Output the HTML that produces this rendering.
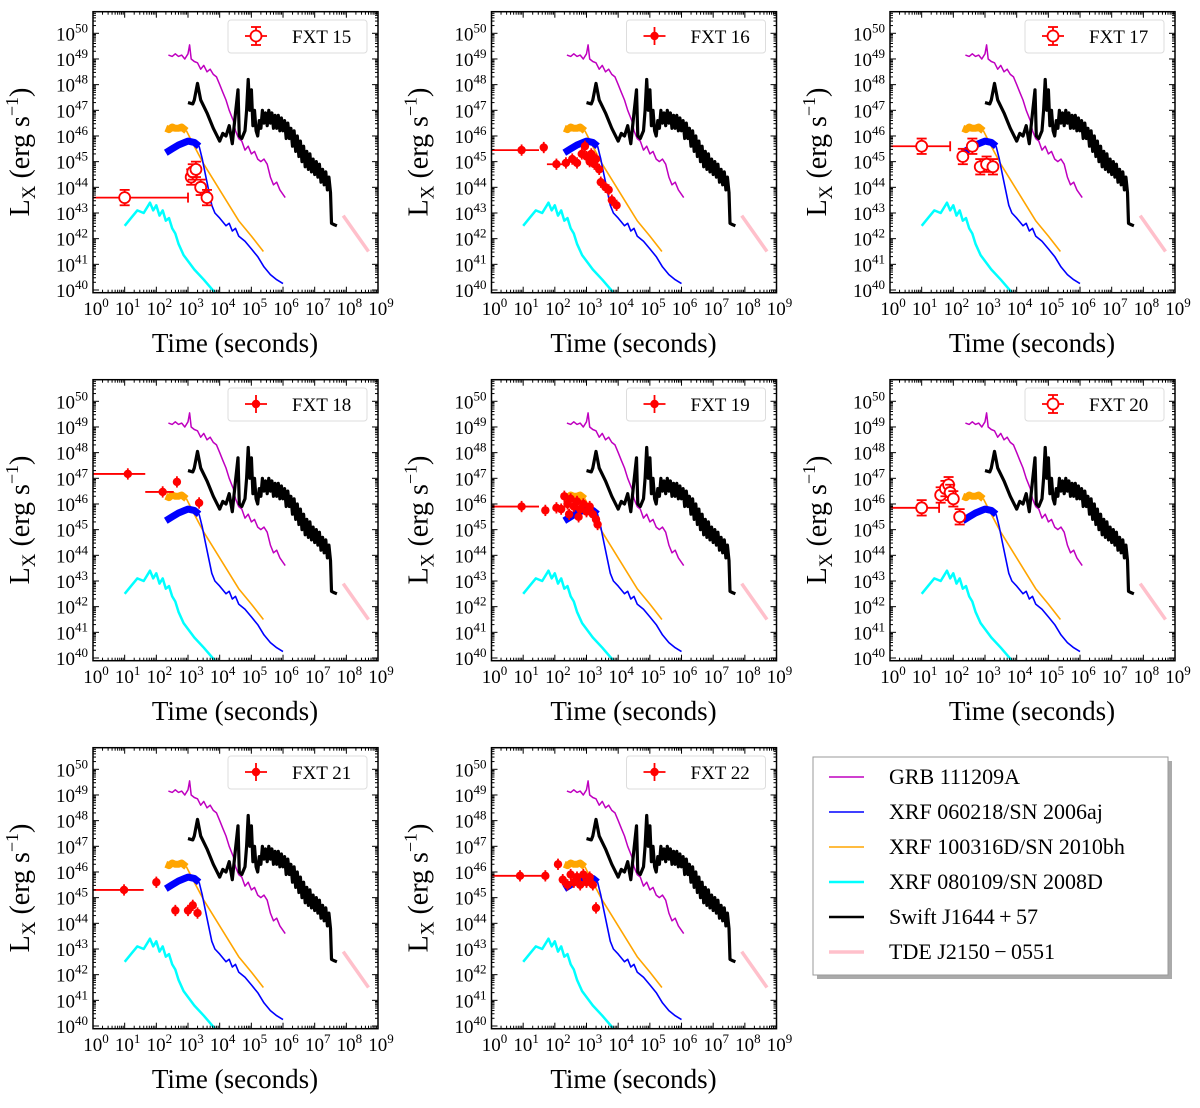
<!DOCTYPE html>
<html><head><meta charset="utf-8"><style>
body{margin:0;background:#fff}
svg{display:block;font-family:"Liberation Serif",serif}
</style></head><body>
<svg id="fig" width="1200" height="1108" viewBox="0 0 1200 1108" xmlns="http://www.w3.org/2000/svg"></svg>
<script>
const grbCurve=[[2.38,49.15],[2.5,49.1],[2.6,49.2],[2.7,49.1],[2.8,49.15],[2.9,49.0],[3.0,49.2],[3.05,49.55],[3.1,49.0],[3.2,48.9],[3.3,48.85],[3.4,48.6],[3.5,48.75],[3.6,48.5],[3.7,48.6],[3.8,48.4],[3.9,48.3],[4.0,48.0],[4.1,47.7],[4.2,47.4],[4.3,47.0],[4.43,46.6],[4.5,46.2],[4.6,45.9],[4.7,45.8],[4.8,45.45],[4.9,45.6],[5.0,45.3],[5.1,45.4],[5.2,45.1],[5.3,45.0],[5.4,45.1],[5.5,44.9],[5.6,44.4],[5.7,44.1],[5.8,44.2],[5.9,43.9],[6.07,43.6]];
const swiftCurve=[[3.0,47.3],[3.15,47.25],[3.2,47.4],[3.3,48.05],[3.4,47.4],[3.6,46.9],[3.8,46.3],[4.0,45.8],[4.1,46.1],[4.2,46.0],[4.3,46.4],[4.4,45.7],[4.5,46.9],[4.58,47.8],[4.62,46.0],[4.7,45.9],[4.8,46.2],[4.85,47.0],[4.9,48.2],[4.95,47.0],[5.0,47.8],[5.05,46.4],[5.1,47.0],[5.15,46.2],[5.2,46.0],[5.25,46.6],[5.3,46.3],[5.35,47.0],[5.4,46.5],[5.45,46.9],[5.5,46.4],[5.55,47.0],[5.6,46.5],[5.65,46.9],[5.7,46.3],[5.75,46.8],[5.8,46.3],[5.85,46.8],[5.9,46.2],[5.95,46.7],[6.0,46.2],[6.05,46.6],[6.1,45.9],[6.15,46.5],[6.2,45.9],[6.25,46.3],[6.3,45.6],[6.35,46.2],[6.4,45.4],[6.45,46.0],[6.5,45.2],[6.55,45.8],[6.6,45.0],[6.65,45.6],[6.7,44.8],[6.75,45.4],[6.8,44.7],[6.85,45.3],[6.9,44.6],[6.95,45.1],[7.0,44.5],[7.05,45.0],[7.1,44.4],[7.15,44.9],[7.2,44.2],[7.25,44.7],[7.3,44.1],[7.35,44.6],[7.4,43.9],[7.45,44.4],[7.5,43.8],[7.53,42.6],[7.6,42.55],[7.7,42.5]];
const orangeEarly=[[2.3,46.3],[2.4,46.25],[2.5,46.35],[2.6,46.3],[2.7,46.3],[2.8,46.35],[2.9,46.25],[2.95,46.2]];
const orangeCurve=[[2.95,46.2],[3.2,45.6],[3.5,44.9],[3.8,44.3],[4.0,43.9],[4.3,43.3],[4.6,42.7],[5.0,42.1],[5.38,41.5]];
const blueEarly=[[2.3,45.35],[2.5,45.5],[2.7,45.65],[2.9,45.75],[3.0,45.8],[3.2,45.75],[3.35,45.6]];
const blueCurve=[[3.35,45.6],[3.45,45.1],[3.55,44.5],[3.65,43.9],[3.75,43.3],[3.85,43.0],[4.0,42.8],[4.2,42.5],[4.3,42.6],[4.4,42.3],[4.5,42.4],[4.6,42.1],[4.8,41.9],[5.0,41.6],[5.2,41.3],[5.4,40.9],[5.6,40.6],[5.8,40.4],[6.0,40.25]];
const cyanCurve=[[1.0,42.5],[1.2,42.8],[1.4,43.1],[1.6,43.0],[1.8,43.4],[1.9,43.1],[2.0,43.3],[2.1,42.9],[2.2,43.1],[2.3,42.7],[2.4,42.8],[2.5,42.4],[2.6,42.2],[2.7,41.8],[2.86,41.36],[3.2,40.8],[3.5,40.4],[3.85,39.9]];
const tdeCurve=[[7.9,42.9],[8.7,41.5]];
// FXT points: [logT, logL, xerrLeft, xerrRight]
const fxt15=[[1.0,43.6,1.0,2.0],[3.1,44.4,0,0],[3.15,44.6,0,0],[3.25,44.7,0,0],[3.4,44.0,0,0],[3.6,43.6,0,0]];
const fxt16=[[0.95,45.45,0.95,0.55],[1.65,45.55,0,0],[2.05,44.9,0.3,0.2],[2.35,44.95,0,0],[2.55,45.1,0,0],[2.7,44.95,0,0],[2.85,45.3,0,0],[2.95,45.6,0,0],[3.0,45.2,0,0],[3.1,45.0,0,0],[3.15,45.3,0,0],[3.25,44.9,0,0],[3.3,45.1,0,0],[3.4,44.7,0,0],[3.45,44.2,0,0],[3.6,44.0,0,0],[3.7,43.9,0,0],[3.8,43.5,0,0],[3.95,43.3,0,0]];
const fxt17=[[1.0,45.6,1.0,0.9],[2.3,45.2,0,0],[2.6,45.6,0,0],[2.85,44.8,0,0],[3.05,44.9,0,0],[3.25,44.8,0,0]];
const fxt18=[[1.1,47.17,1.1,0.55],[2.2,46.47,0.55,0.35],[2.65,46.86,0,0],[3.35,46.04,0,0]];
const fxt19=[[0.95,45.9,0.95,0.55],[1.7,45.75,0,0],[2.05,45.85,0,0],[2.2,45.8,0,0],[2.3,46.3,0,0],[2.4,46.0,0,0],[2.45,45.6,0,0],[2.5,46.2,0,0],[2.6,45.9,0,0],[2.7,46.1,0,0],[2.75,45.5,0,0],[2.8,45.8,0,0],[2.9,46.0,0,0],[3.0,45.7,0,0],[3.1,45.9,0,0],[3.2,45.6,0,0],[3.3,45.4,0,0],[3.35,45.2,0,0]];
const fxt20=[[1.0,45.85,1.0,0.55],[1.6,46.35,0,0],[1.75,46.6,0,0],[1.85,46.75,0,0],[1.9,46.45,0,0],[2.0,46.2,0,0],[2.2,45.5,0,0]];
const fxt21=[[0.98,45.3,0.98,0.62],[2.0,45.6,0,0],[2.6,44.5,0,0],[3.0,44.5,0,0],[3.15,44.7,0,0],[3.3,44.4,0,0]];
const fxt22=[[0.9,45.85,0.9,0.8],[1.7,45.85,0,0],[2.1,46.3,0,0],[2.25,45.7,0,0],[2.4,45.5,0,0],[2.5,45.9,0,0],[2.6,45.6,0,0],[2.7,45.8,0,0],[2.8,45.5,0,0],[2.9,45.9,0,0],[3.0,45.6,0,0],[3.1,45.8,0,0],[3.2,45.5,0,0],[3.3,44.6,0,0]];
const panelNames=["FXT 15","FXT 16","FXT 17","FXT 18","FXT 19","FXT 20","FXT 21","FXT 22"];
const panelData=[fxt15,fxt16,fxt17,fxt18,fxt19,fxt20,fxt21,fxt22];
const panelOpen=[true,false,true,false,false,true,false,false];
const xTicks=[0,1,2,3,4,5,6,7,8,9];
const yTicks=[40,41,42,43,44,45,46,47,48,49,50];
const legendNames=["GRB 111209A","XRF 060218/SN 2006aj","XRF 100316D/SN 2010bh","XRF 080109/SN 2008D","Swift J1644\u2009+\u200957","TDE J2150\u2009\u2212\u20090551"];

const NS="http://www.w3.org/2000/svg";
const svg=document.getElementById('fig');
function mk(tag,attrs,parent){const e=document.createElementNS(NS,tag);for(const k in attrs)e.setAttribute(k,attrs[k]);parent.appendChild(e);return e;}
const X0=93,X1=378,YT=11.7,YB=292.7;
function X(lt){return X0+lt*31.67;}
function Y(ll){return 290-(ll-40)*25.67;}
function pathD(a){return a.map((p,i)=>(i?'L':'M')+X(p[0]).toFixed(1)+','+Y(p[1]).toFixed(1)).join('');}

const defs=mk('defs',{},svg);
const cp=mk('clipPath',{id:'clip'},defs);
mk('rect',{x:X0,y:YT,width:X1-X0,height:YB-YT},cp);

const curves=[
 [grbCurve,'#bf00bf',1.5,'grb-curve'],
 [swiftCurve,'#000',3.2,'swift-curve'],
 [orangeEarly,'#ffa500',7,'xrf100316d-early'],
 [orangeCurve,'#ffa500',1.6,'xrf100316d-curve'],
 [blueEarly,'#0000ff',7,'xrf060218-early'],
 [blueCurve,'#0000ff',1.6,'xrf060218-curve'],
 [cyanCurve,'#00ffff',2.5,'xrf080109-curve'],
 [tdeCurve,'#ffc0cb',3.5,'tde-curve']];

for(let p=0;p<8;p++){
 const c=p%3,r=Math.floor(p/3);
 const g=mk('g',{transform:`translate(${c*398.5},${r*368})`},svg);
 
 
 const cg=mk('g',{'clip-path':'url(#clip)'},g);
 for(const cv of curves){
  const el=mk('path',{d:pathD(cv[0]),fill:'none',stroke:cv[1],'stroke-width':cv[2],'stroke-linejoin':'round'},cg);
  
  
 }
 const open=panelOpen[p];
 const pg=mk('g',{},cg);
 
 
 for(const d of panelData[p]){
  const x=X(d[0]),y=Y(d[1]);
  const ye=open?0.3:0.22;
  if(d[2]||d[3]){mk('line',{x1:X(d[0]-d[2]),x2:X(d[0]+d[3]),y1:y,y2:y,stroke:'red','stroke-width':1.8},pg);
   if(open) mk('line',{x1:X(d[0]+d[3]),x2:X(d[0]+d[3]),y1:y-5,y2:y+5,stroke:'red','stroke-width':1.8},pg);}
  mk('line',{x1:x,x2:x,y1:Y(d[1]+ye),y2:Y(d[1]-ye),stroke:'red','stroke-width':1.8},pg);
  if(open){mk('line',{x1:x-5,x2:x+5,y1:Y(d[1]+ye),y2:Y(d[1]+ye),stroke:'red','stroke-width':1.8},pg);
   mk('line',{x1:x-5,x2:x+5,y1:Y(d[1]-ye),y2:Y(d[1]-ye),stroke:'red','stroke-width':1.8},pg);
   mk('circle',{cx:x,cy:y,r:5.5,fill:'#fff',stroke:'red','stroke-width':1.8},pg);}
  else mk('circle',{cx:x,cy:y,r:4.2,fill:'red'},pg);
 }
 const fr=mk('rect',{x:X0,y:YT,width:X1-X0,height:YB-YT,fill:'none',stroke:'#000','stroke-width':1.5},g);
 
 
 const tg=mk('g',{stroke:'#000','stroke-width':1},g);
 for(const t of xTicks){
  const x=X(t);
  mk('line',{x1:x,x2:x,y1:YB,y2:YB-6},tg);mk('line',{x1:x,x2:x,y1:YT,y2:YT+6},tg);
  if(t<9)for(let m=2;m<10;m++){const xm=X(t+Math.log10(m));mk('line',{x1:xm,x2:xm,y1:YB,y2:YB-3},tg);mk('line',{x1:xm,x2:xm,y1:YT,y2:YT+3},tg);}
  const tx=mk('text',{x:x+3,y:315,'font-size':19,'text-anchor':'middle',fill:'#000'},g);
  
  
  tx.innerHTML='10<tspan font-size="13" dy="-8">'+t+'</tspan>';
 }
 for(const t of yTicks){
  const y=Y(t);
  mk('line',{x1:X0,x2:X0+6,y1:y,y2:y},tg);mk('line',{x1:X1,x2:X1-6,y1:y,y2:y},tg);
  for(let m=2;m<10;m++){const ym=Y(t+Math.log10(m));if(ym<YT)break;mk('line',{x1:X0,x2:X0+3,y1:ym,y2:ym},tg);mk('line',{x1:X1,x2:X1-3,y1:ym,y2:ym},tg);}
  const ty=mk('text',{x:88,y:y+7,'font-size':19,'text-anchor':'end',fill:'#000'},g);
  
  
  ty.innerHTML='10<tspan font-size="13" dy="-8">'+t+'</tspan>';
 }
 const xt=mk('text',{x:235,y:352,'font-size':27,'text-anchor':'middle',fill:'#000'},g);
 
 
 xt.textContent='Time (seconds)';
 const yt=mk('text',{transform:'translate(29,152) rotate(-90)','font-size':28,'text-anchor':'middle',fill:'#000'},g);
 
 
 yt.innerHTML='L<tspan font-size="19" dy="6">X</tspan><tspan dy="-6"> (erg s</tspan><tspan font-size="18" dy="-11">\u22121</tspan><tspan dy="11">)</tspan>';
 const lg=mk('g',{},g);
 
 
 mk('rect',{x:228,y:20,width:139,height:33,rx:3,fill:'#fff',stroke:'#ddd','stroke-width':1},lg);
 mk('line',{x1:245,x2:267,y1:36,y2:36,stroke:'red','stroke-width':1.8},lg);
 mk('line',{x1:256,x2:256,y1:27,y2:45,stroke:'red','stroke-width':1.8},lg);
 if(open){mk('line',{x1:251,x2:261,y1:27,y2:27,stroke:'red','stroke-width':1.8},lg);mk('line',{x1:251,x2:261,y1:45,y2:45,stroke:'red','stroke-width':1.8},lg);
  mk('circle',{cx:256,cy:36,r:5.5,fill:'#fff',stroke:'red','stroke-width':1.8},lg);}
 else mk('circle',{cx:256,cy:36,r:4.2,fill:'red'},lg);
 const lt=mk('text',{x:292,y:43,'font-size':19,fill:'#000'},lg);
 lt.textContent=panelNames[p];
}
const LG=mk('g',{},svg);


mk('rect',{x:817,y:761,width:355,height:218,fill:'#aaa'},LG);
mk('rect',{x:813,y:757,width:355,height:218,fill:'#fff',stroke:'#999','stroke-width':1},LG);
const lgStyles=[['#bf00bf',1.5],['#0000ff',1.6],['#ffa500',1.6],['#00ffff',2.5],['#000',2.5],['#ffc0cb',3.5]];
for(let i=0;i<legendNames.length;i++){
 const y=777+i*35;
 const e=mk('g',{},LG);
 
 
 mk('line',{x1:829,x2:864,y1:y,y2:y,stroke:lgStyles[i][0],'stroke-width':lgStyles[i][1]},e);
 const t=mk('text',{x:889,y:y+7,'font-size':22,fill:'#000'},e);
 t.textContent=legendNames[i];
}
</script>
</body></html>
